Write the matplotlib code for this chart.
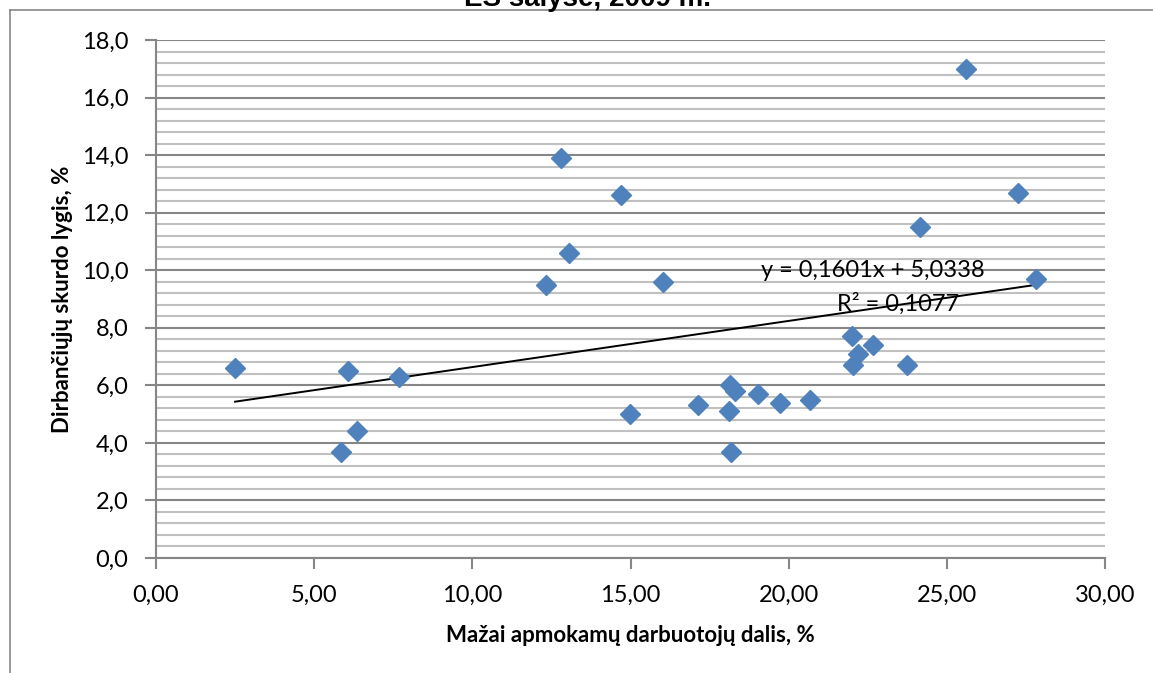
import numpy as np
import matplotlib
matplotlib.use("Agg")
import matplotlib.pyplot as plt
from matplotlib.lines import Line2D
from matplotlib.ticker import MultipleLocator, FuncFormatter

# low-paid workers share (%) vs in-work poverty rate (%), EU countries 2009
low_paid = [2.50, 5.85, 6.07, 6.35, 7.68, 12.33, 12.80, 13.05, 14.70, 14.98,
            16.03, 17.13, 18.11, 18.14, 18.30, 18.18, 19.03, 19.73, 20.67,
            22.00, 22.03, 22.19, 22.66, 23.74, 24.15, 25.60, 27.25, 27.82]
poverty = [6.6, 3.7, 6.5, 4.4, 6.3, 9.5, 13.9, 10.6, 12.6, 5.0,
           9.6, 5.3, 5.1, 6.0, 5.8, 3.7, 5.7, 5.4, 5.5,
           7.7, 6.7, 7.1, 7.4, 6.7, 11.5, 17.0, 12.7, 9.7]
eq_text = "y = 0,1601x + 5,0338"
r2_text = "R² = 0,1077"

FONT = ["Lato", "DejaVu Sans"]
plt.rcParams["font.family"] = FONT

W, H = 1153, 673
fig = plt.figure(figsize=(W/100, H/100), dpi=100, facecolor="white")
ax = fig.add_axes([156/W, 1-558/H, (1105-156)/W, (558-40)/H])

x = np.array(low_paid); y = np.array(poverty)
k, b = np.polyfit(x, y, 1)
xs = np.array([x.min(), x.max()])
ax.plot(xs, k*xs + b, color="black", lw=1.4, zorder=3)
ax.plot(x, y, ls="none", marker="D", ms=10.5, color="#4F81BD", mec="#4F81BD", zorder=4)

ax.set_xlim(0, 30); ax.set_ylim(0, 18)
ax.xaxis.set_major_locator(MultipleLocator(5))
ax.yaxis.set_major_locator(MultipleLocator(2))
ax.yaxis.set_minor_locator(MultipleLocator(0.4))
ax.xaxis.set_major_formatter(FuncFormatter(lambda v, p: f"{v:.2f}".replace(".", ",")))
ax.yaxis.set_major_formatter(FuncFormatter(lambda v, p: f"{v:.1f}".replace(".", ",")))
ax.grid(axis="y", which="major", color="#868686", lw=1.5)
ax.grid(axis="y", which="minor", color="#C0C0C0", lw=1.5)
ax.set_axisbelow(True)
for s in ["top", "right"]: ax.spines[s].set_visible(False)
for s in ["left", "bottom"]:
    ax.spines[s].set_color("#868686"); ax.spines[s].set_linewidth(1.5)
ax.tick_params(axis="both", which="major", colors="#868686", length=8, width=1.5,
               labelcolor="black", labelsize=17)
ax.tick_params(axis="y", which="minor", length=0)
ax.tick_params(axis="x", pad=11)
ax.tick_params(axis="y", pad=12)

ax.set_xlabel("Mažai apmokamų darbuotojų dalis, %", fontsize=16, fontweight="bold", labelpad=14)
ax.set_ylabel("Dirbančiųjų skurdo lygis, %", fontsize=16, fontweight="bold", labelpad=6)

ax.text(22.67, 10.0, eq_text, fontsize=17, ha="center", va="center", zorder=5)
ax.text(23.45, 8.83, r2_text, fontsize=17, ha="center", va="center", zorder=5)

fig.text(588/W, 1-6/H, "ES šalyse, 2009 m.", fontsize=20, fontweight="bold",
         ha="center", va="baseline", family=["Liberation Sans", "DejaVu Sans"])

fig.add_artist(Line2D([10/W, 10/W], [0, 1-10/H], color="#888888", lw=1.2))
fig.add_artist(Line2D([10/W, 1], [1-10/H, 1-10/H], color="#888888", lw=1.2))

fig.savefig("out.png", dpi=100)
